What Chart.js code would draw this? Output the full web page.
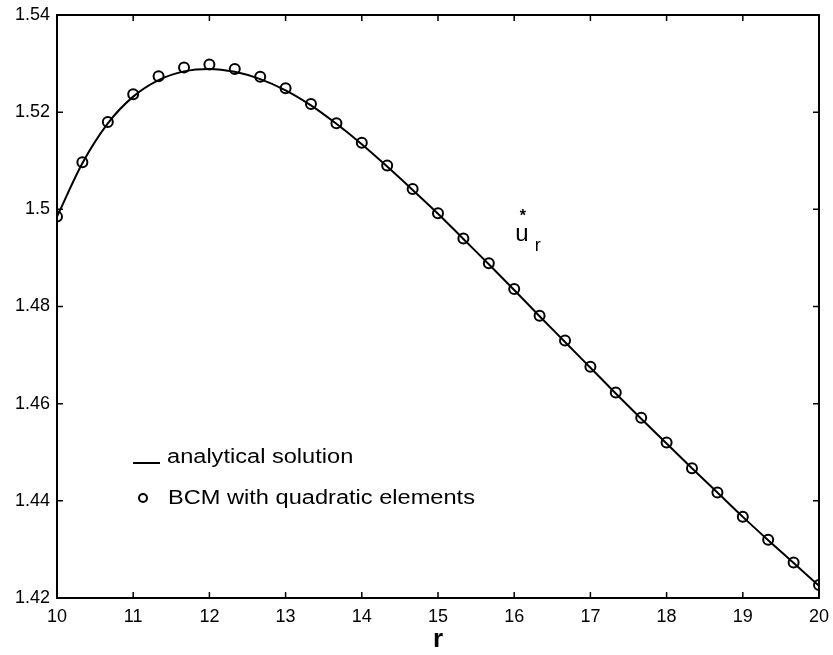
<!DOCTYPE html>
<html>
<head>
<meta charset="utf-8">
<script src="https://cdn.jsdelivr.net/npm/chart.js@4.4.0/dist/chart.umd.min.js"></script>
<style>
  html, body { margin: 0; padding: 0; background: #fff; }
</style>
</head>
<body>
<canvas id="chart" width="833" height="655"></canvas>
<script>
// === Data ===
var rValues = [10, 10.333, 10.667, 11, 11.333, 11.667, 12, 12.333, 12.667, 13,
  13.333, 13.667, 14, 14.333, 14.667, 15, 15.333, 15.667, 16, 16.333,
  16.667, 17, 17.333, 17.667, 18, 18.333, 18.667, 19, 19.333, 19.667, 20];

// analytical solution (solid curve)
var analyticU = [1.4985, 1.5095, 1.5177, 1.5232, 1.5266, 1.5284, 1.5289, 1.5283, 1.5268, 1.5245,
  1.5214, 1.5176, 1.5134, 1.5088, 1.5040, 1.4991, 1.4939, 1.4887, 1.4834, 1.4780,
  1.4727, 1.4674, 1.4621, 1.4569, 1.4518, 1.4467, 1.4417, 1.4367, 1.4319, 1.4272, 1.4225];

// BCM with quadratic elements (circles)
var bcmU = [1.4985, 1.5097, 1.5180, 1.5237, 1.5274, 1.5292, 1.5298, 1.5289, 1.5273, 1.5249,
  1.5217, 1.5177, 1.5137, 1.5090, 1.5042, 1.4992, 1.4940, 1.4889, 1.4836, 1.4781,
  1.4730, 1.4676, 1.4623, 1.4571, 1.4520, 1.4467, 1.4417, 1.4367, 1.4320, 1.4273, 1.4227];

var xTicks = [10, 11, 12, 13, 14, 15, 16, 17, 18, 19, 20];
var yTicks = [1.42, 1.44, 1.46, 1.48, 1.5, 1.52, 1.54];

var legendLabels = ['analytical solution', 'BCM with quadratic elements'];
var FONT = '"Liberation Sans", Arial, Helvetica, sans-serif';
var INK = '#000';

function toPoints(xs, ys) {
  return xs.map(function(x, i) { return { x: x, y: ys[i] }; });
}

// frame, inward ticks, legend text and the u*_r label
var framePlugin = {
  id: 'frame',
  afterDatasetsDraw: function(chart) {
    var ctx = chart.ctx;
    var a = chart.chartArea;
    var xs = chart.scales.x;
    var ys = chart.scales.y;
    var tl = 6;
    ctx.save();
    ctx.strokeStyle = INK;
    ctx.lineWidth = 2;
    ctx.strokeRect(a.left, a.top, a.right - a.left, a.bottom - a.top);

    ctx.lineWidth = 1.5;
    ctx.beginPath();
    xTicks.forEach(function(v) {
      var px = xs.getPixelForValue(v);
      ctx.moveTo(px, a.bottom); ctx.lineTo(px, a.bottom - tl);
      ctx.moveTo(px, a.top); ctx.lineTo(px, a.top + tl);
    });
    yTicks.forEach(function(v) {
      var py = ys.getPixelForValue(v);
      ctx.moveTo(a.left, py); ctx.lineTo(a.left + tl, py);
      ctx.moveTo(a.right, py); ctx.lineTo(a.right - tl, py);
    });
    ctx.stroke();

    // legend (scan is slightly stretched horizontally)
    ctx.fillStyle = INK;
    ctx.textBaseline = 'middle';
    ctx.lineWidth = 2;
    ctx.beginPath();
    ctx.moveTo(a.left + 76, a.top + 448);
    ctx.lineTo(a.left + 103, a.top + 448);
    ctx.stroke();
    ctx.beginPath();
    ctx.arc(a.left + 86, a.top + 483, 4, 0, Math.PI * 2);
    ctx.stroke();

    ctx.font = '20px ' + FONT;
    [[a.left + 110, a.top + 442, legendLabels[0]],
     [a.left + 111, a.top + 483, legendLabels[1]]].forEach(function(t) {
      ctx.save();
      ctx.translate(t[0], t[1]);
      ctx.scale(1.18, 1);
      ctx.fillText(t[2], 0, 0);
      ctx.restore();
    });

    // u*_r
    var ux = xs.getPixelForValue(16.1);
    var uy = ys.getPixelForValue(1.4949);
    ctx.textAlign = 'center';
    ctx.font = '24px ' + FONT;
    ctx.fillText('u', ux, uy);
    ctx.font = 'bold 16px ' + FONT;
    ctx.fillText('*', ux + 1, uy - 18);
    ctx.font = '18px ' + FONT;
    ctx.fillText('r', ux + 16, uy + 12);
    ctx.restore();
  }
};

new Chart(document.getElementById('chart'), {
  type: 'scatter',
  data: {
    datasets: [{
      label: legendLabels[1],
      data: toPoints(rValues, bcmU),
      showLine: false,
      pointStyle: 'circle',
      pointRadius: 5,
      pointHoverRadius: 5,
      pointBorderWidth: 2,
      pointBorderColor: INK,
      pointBackgroundColor: 'rgba(0,0,0,0)'
    }, {
      label: legendLabels[0],
      data: toPoints(rValues, analyticU),
      showLine: true,
      borderColor: INK,
      borderWidth: 2,
      pointRadius: 0,
      cubicInterpolationMode: 'monotone'
    }]
  },
  options: {
    responsive: false,
    animation: false,
    events: [],
    layout: { padding: { left: 0, right: 14, top: 15, bottom: 0 } },
    plugins: {
      legend: { display: false },
      tooltip: { enabled: false }
    },
    scales: {
      x: {
        type: 'linear',
        min: 10,
        max: 20,
        afterFit: function(s) {
          s.height = 57;
          s.paddingLeft = 0;
          s.paddingRight = 0;
        },
        afterBuildTicks: function(s) { s.ticks = xTicks.map(function(v) { return { value: v }; }); },
        grid: { display: false, drawTicks: false },
        border: { display: false },
        ticks: {
          padding: 8,
          color: INK,
          font: { family: FONT, size: 18 },
          callback: function(v) { return String(v); }
        },
        title: {
          display: true,
          text: 'r',
          color: INK,
          font: { family: FONT, size: 26, weight: 'bold' },
          padding: { top: 4, bottom: 0 }
        }
      },
      y: {
        type: 'linear',
        min: 1.42,
        max: 1.54,
        afterFit: function(s) {
          s.width = 57;
          s.paddingTop = 0;
          s.paddingBottom = 0;
        },
        afterBuildTicks: function(s) { s.ticks = yTicks.map(function(v) { return { value: v }; }); },
        grid: { display: false, drawTicks: false },
        border: { display: false },
        ticks: {
          padding: 7,
          color: INK,
          font: { family: FONT, size: 18 },
          callback: function(v) { return String(Number(v.toFixed(2))); }
        }
      }
    }
  },
  plugins: [framePlugin]
});
</script>
</body>
</html>
